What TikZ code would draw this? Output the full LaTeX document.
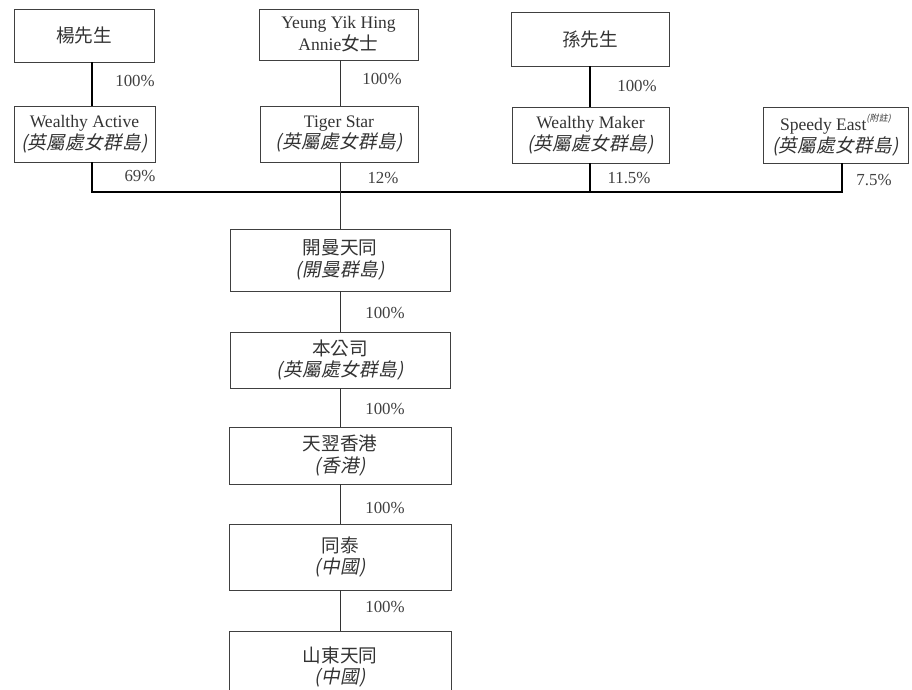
\documentclass[tikz,border=0pt]{standalone}
\usepackage{fontspec}
\setmainfont{Liberation Serif}
\newfontfamily\cjk[Scale=1.06]{Noto Sans CJK TC}
\newfontfamily\cjkit[Scale=1.06, FakeSlant=0.2, LetterSpace=2]{Noto Sans CJK TC}
\usetikzlibrary{positioning}

\tikzset{
    entity/.style={draw=black!75, line width=0.5pt, align=center, inner sep=0pt,
        text=black!80, font=\fontsize{12.5}{15.6}\selectfont},
    share/.style={inner sep=0pt, text=black!75, font=\fontsize{12}{14}\selectfont},
    heavy link/.style={line width=1.4pt},
    light link/.style={line width=0.6pt, black!80},
}
\newcommand{\bvi}{{\cjkit (英屬處女群島)}}

\begin{document}
\begin{tikzpicture}[x=0.025cm, y=-0.025cm]
    \useasboundingbox (0,0) rectangle (912,689);
    \clip (0,0) rectangle (912,689);
    % shareholders.
    \node[entity, minimum width=3.5cm, minimum height=1.325cm] (yang) at (84,35.5) {\cjk 楊先生};
    \node[entity, minimum width=3.975cm, minimum height=1.275cm] (yeung) at (338.5,34.5) {Yeung Yik Hing\\Annie{\cjk 女士}};
    \node[entity, minimum width=3.95cm, minimum height=1.35cm] (sun) at (590,39) {\cjk 孫先生};
    % holding companies.
    \node[entity, minimum width=3.525cm, minimum height=1.4cm] (wactive) at (84.5,134) {Wealthy Active\\\bvi};
    \node[entity, minimum width=3.95cm, minimum height=1.4cm] (tiger) at (339,134) {Tiger Star\\\bvi};
    \node[entity, minimum width=3.925cm, minimum height=1.4cm] (wmaker) at (590.5,135) {Wealthy Maker\\\bvi};
    \node[entity, minimum width=3.625cm, minimum height=1.4cm] (speedy) at (835.5,135)
        {Speedy East\raisebox{1.2ex}{\cjkit\fontsize{6}{6}\selectfont (附註)}\\\bvi};
    % group chain.
    \node[entity, minimum width=5.5cm, minimum height=1.55cm] (kaiman) at (340,260) {\cjk 開曼天同\\{\cjkit (開曼群島)}};
    \node[entity, minimum width=5.5cm, minimum height=1.4cm] (company) at (340,360) {\cjk 本公司\\\bvi};
    \node[entity, minimum width=5.55cm, minimum height=1.425cm] (hk) at (340,455.5) {\cjk 天翌香港\\{\cjkit (香港)}};
    \node[entity, minimum width=5.55cm, minimum height=1.65cm] (tongtai) at (340,557) {\cjk 同泰\\{\cjkit (中國)}};
    \node[entity, minimum width=5.55cm, minimum height=1.8cm] (shandong) at (340,667) {\cjk 山東天同\\{\cjkit (中國)}};
    % bus line.
    \coordinate (bus left) at (92,192);
    \coordinate (bus right) at (842,192);
    \coordinate (bus mid) at (590,192);
    \draw[heavy link] (yang.south -| bus left) -- (wactive.north -| bus left);
    \draw[heavy link] (wactive.south -| bus left) -- (bus left) -- (bus right) -- (speedy.south -| bus right);
    \draw[heavy link] (sun.south -| bus mid) -- (wmaker.north -| bus mid);
    \draw[heavy link] (wmaker.south -| bus mid) -- (bus mid);
    \draw[light link] (yeung.south -| kaiman.north) -- (tiger.north -| kaiman.north);
    \draw[light link] (tiger.south -| kaiman.north) -- (kaiman.north);
    % chain links.
    \draw[light link] (kaiman) -- (company);
    \draw[light link] (company) -- (hk);
    \draw[light link] (hk) -- (tongtai);
    \draw[light link] (tongtai) -- (shandong);
    % percentages.
    \node[share] (p yang) at (135,81) {100\%};
    \node[share] (p wactive) at (140,176) {69\%};
    \node[share] (p yeung) at (382,79) {100\%};
    \node[share] (p tiger) at (383,178) {12\%};
    \node[share] (p sun) at (637,86) {100\%};
    \node[share] (p wmaker) at (629,178) {11.5\%};
    \node[share] (p speedy) at (874,180) {7.5\%};
    \node[share] (p kaiman) at (385,313) {100\%};
    \node[share] (p company) at (385,409) {100\%};
    \node[share] (p hk) at (385,508) {100\%};
    \node[share] (p tongtai) at (385,607) {100\%};
\end{tikzpicture}
\end{document}
